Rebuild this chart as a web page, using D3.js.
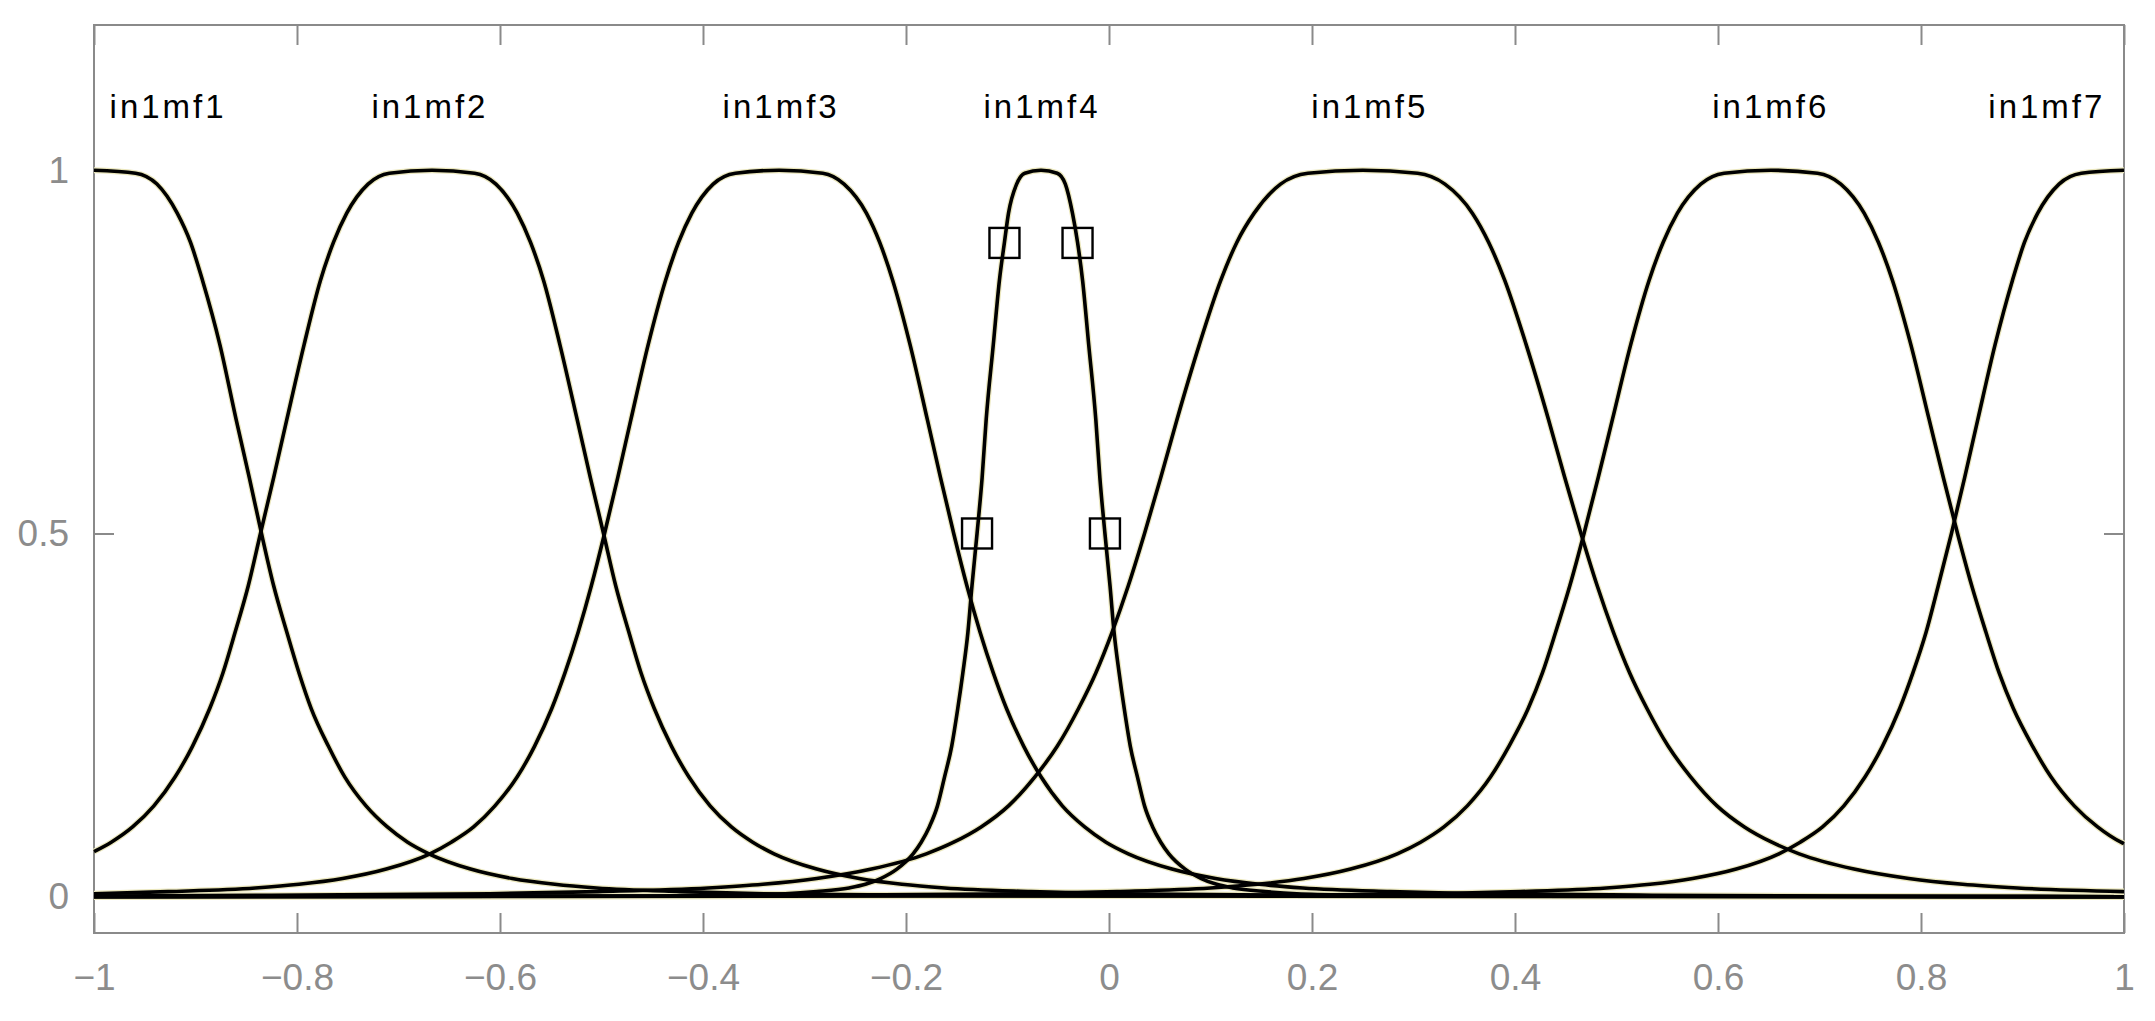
<!DOCTYPE html>
<html>
<head>
<meta charset="utf-8">
<script src="https://cdn.jsdelivr.net/npm/d3@7"></script>
<style>
body { margin: 0; background: #fff; }
svg { display: block; }
.axis text { font-family: "Liberation Sans", Arial, sans-serif; font-size: 37px; fill: #8c8c8c; }
.axis line { stroke: #8a8a8a; stroke-width: 2; }
.mflabel { font-family: "Liberation Sans", Arial, sans-serif; font-size: 33px; fill: #000; letter-spacing: 3px; }
</style>
</head>
<body>
<div id="chart"></div>
<script>
/* membership curves as [x, mu] points */
var in1mf1 = [[-1,1],[-0.959,0.996],[-0.938,0.981],[-0.918,0.941],[-0.905,0.901],[-0.893,0.848],[-0.876,0.760],[-0.860,0.657],[-0.847,0.577],[-0.835,0.500],[-0.823,0.428],[-0.810,0.364],[-0.798,0.308],[-0.786,0.259],[-0.769,0.207],[-0.753,0.165],[-0.732,0.125],[-0.711,0.096],[-0.691,0.075],[-0.670,0.059],[-0.629,0.038],[-0.588,0.025],[-0.546,0.017],[-0.505,0.012],[-0.423,0.007],[-0.340,0.004],[-0.175,0.002],[-0.010,0.001],[1,0]];
var in1mf2 = [[-1,0.062],[-0.983,0.075],[-0.962,0.096],[-0.941,0.125],[-0.920,0.165],[-0.903,0.207],[-0.886,0.259],[-0.873,0.308],[-0.861,0.364],[-0.848,0.428],[-0.836,0.500],[-0.823,0.577],[-0.810,0.657],[-0.793,0.760],[-0.777,0.848],[-0.764,0.901],[-0.751,0.941],[-0.730,0.981],[-0.709,0.996],[-0.667,1],[-0.625,0.996],[-0.604,0.981],[-0.583,0.941],[-0.570,0.901],[-0.557,0.848],[-0.541,0.760],[-0.524,0.657],[-0.511,0.577],[-0.498,0.500],[-0.486,0.428],[-0.473,0.364],[-0.461,0.308],[-0.448,0.259],[-0.431,0.207],[-0.414,0.165],[-0.393,0.125],[-0.372,0.096],[-0.351,0.075],[-0.330,0.059],[-0.288,0.038],[-0.246,0.025],[-0.204,0.017],[-0.162,0.012],[-0.077,0.007],[0.007,0.004],[0.176,0.002],[0.344,0.001],[1,0]];
var in1mf3 = [[-1,0.004],[-0.927,0.007],[-0.841,0.012],[-0.798,0.017],[-0.755,0.025],[-0.712,0.038],[-0.669,0.059],[-0.648,0.075],[-0.626,0.096],[-0.605,0.125],[-0.583,0.165],[-0.566,0.207],[-0.549,0.259],[-0.536,0.308],[-0.523,0.364],[-0.510,0.428],[-0.497,0.500],[-0.484,0.577],[-0.471,0.657],[-0.454,0.760],[-0.437,0.848],[-0.424,0.901],[-0.411,0.941],[-0.390,0.981],[-0.368,0.996],[-0.325,1],[-0.282,0.996],[-0.261,0.981],[-0.239,0.941],[-0.226,0.901],[-0.213,0.848],[-0.196,0.760],[-0.179,0.657],[-0.166,0.577],[-0.153,0.500],[-0.140,0.428],[-0.127,0.364],[-0.114,0.308],[-0.101,0.259],[-0.084,0.207],[-0.067,0.165],[-0.046,0.125],[-0.024,0.096],[-0.003,0.075],[0.019,0.059],[0.062,0.038],[0.105,0.025],[0.148,0.017],[0.191,0.012],[0.277,0.007],[0.363,0.004],[0.535,0.002],[0.707,0.001],[1,0]];
var in1mf4 = [[-1,0],[-0.445,0.001],[-0.382,0.002],[-0.319,0.004],[-0.288,0.007],[-0.256,0.012],[-0.240,0.017],[-0.225,0.025],[-0.209,0.038],[-0.193,0.059],[-0.185,0.075],[-0.177,0.096],[-0.169,0.125],[-0.162,0.165],[-0.155,0.207],[-0.149,0.259],[-0.144,0.308],[-0.139,0.364],[-0.135,0.428],[-0.130,0.500],[-0.125,0.577],[-0.121,0.657],[-0.114,0.760],[-0.108,0.848],[-0.103,0.901],[-0.099,0.941],[-0.091,0.981],[-0.083,0.996],[-0.067,1],[-0.051,0.996],[-0.043,0.981],[-0.036,0.941],[-0.031,0.901],[-0.026,0.848],[-0.020,0.760],[-0.013,0.657],[-0.009,0.577],[-0.004,0.500],[0.001,0.428],[0.005,0.364],[0.010,0.308],[0.015,0.259],[0.021,0.207],[0.028,0.165],[0.035,0.125],[0.043,0.096],[0.051,0.075],[0.059,0.059],[0.075,0.038],[0.091,0.025],[0.106,0.017],[0.122,0.012],[0.154,0.007],[0.185,0.004],[0.248,0.002],[0.311,0.001],[1,0]];
var in1mf5 = [[-1,0.001],[-0.825,0.002],[-0.610,0.004],[-0.503,0.007],[-0.395,0.012],[-0.341,0.017],[-0.288,0.025],[-0.234,0.038],[-0.180,0.059],[-0.153,0.075],[-0.126,0.096],[-0.099,0.125],[-0.073,0.165],[-0.051,0.207],[-0.030,0.259],[-0.013,0.308],[0.003,0.364],[0.019,0.428],[0.035,0.500],[0.051,0.577],[0.067,0.657],[0.089,0.760],[0.110,0.848],[0.126,0.901],[0.143,0.941],[0.169,0.981],[0.196,0.996],[0.250,1],[0.304,0.996],[0.331,0.981],[0.358,0.941],[0.374,0.901],[0.390,0.848],[0.411,0.760],[0.433,0.657],[0.449,0.577],[0.465,0.500],[0.481,0.428],[0.497,0.364],[0.513,0.308],[0.530,0.259],[0.551,0.207],[0.573,0.165],[0.599,0.125],[0.626,0.096],[0.653,0.075],[0.680,0.059],[0.734,0.038],[0.788,0.025],[0.841,0.017],[0.895,0.012],[1,0.007]];
var in1mf6 = [[-1,0],[-0.452,0.001],[-0.268,0.002],[-0.084,0.004],[0.008,0.007],[0.100,0.012],[0.146,0.017],[0.192,0.025],[0.238,0.038],[0.284,0.059],[0.307,0.075],[0.330,0.096],[0.353,0.125],[0.376,0.165],[0.394,0.207],[0.413,0.259],[0.427,0.308],[0.440,0.364],[0.454,0.428],[0.468,0.500],[0.482,0.577],[0.496,0.657],[0.514,0.760],[0.532,0.848],[0.546,0.901],[0.560,0.941],[0.583,0.981],[0.606,0.996],[0.652,1],[0.698,0.996],[0.721,0.981],[0.744,0.941],[0.758,0.901],[0.772,0.848],[0.790,0.760],[0.808,0.657],[0.822,0.577],[0.836,0.500],[0.850,0.428],[0.864,0.364],[0.877,0.308],[0.891,0.259],[0.910,0.207],[0.928,0.165],[0.951,0.125],[0.974,0.096],[0.997,0.075],[1,0.073]];
var in1mf7 = [[-1,0],[-0.020,0.001],[0.150,0.002],[0.320,0.004],[0.405,0.007],[0.490,0.012],[0.533,0.017],[0.575,0.025],[0.618,0.038],[0.660,0.059],[0.681,0.075],[0.703,0.096],[0.724,0.125],[0.745,0.165],[0.762,0.207],[0.779,0.259],[0.792,0.308],[0.805,0.364],[0.817,0.428],[0.830,0.500],[0.843,0.577],[0.856,0.657],[0.873,0.760],[0.890,0.848],[0.902,0.901],[0.915,0.941],[0.936,0.981],[0.958,0.996],[1,1]];

var mfNames = ["in1mf1", "in1mf2", "in1mf3", "in1mf4", "in1mf5", "in1mf6", "in1mf7"];
var mfLabelX = [-0.927, -0.669, -0.323, -0.066, 0.257, 0.652, 0.924];
var mfLabelY = 1.1;

/* square handles on in1mf4 */
var handleX = [-0.130, -0.103, -0.031, -0.004];
var handleY = [0.5, 0.9, 0.9, 0.5];

var xTicks = [-1, -0.8, -0.6, -0.4, -0.2, 0, 0.2, 0.4, 0.6, 0.8, 1];
var xTickLabels = ["\u22121", "\u22120.8", "\u22120.6", "\u22120.4", "\u22120.2", "0", "0.2", "0.4", "0.6", "0.8", "1"];
var yTicks = [0, 0.5, 1];
var yTickLabels = ["0", "0.5", "1"];

var curves = [in1mf1, in1mf2, in1mf3, in1mf4, in1mf5, in1mf6, in1mf7];

var w = 2155, h = 1021;
var padL = 94, padR = 2124, padT = 25, padB = 933;
var tickLen = 20;

var xScale = d3.scaleLinear().domain([-1, 1]).range([padL, padR]);
var yScale = d3.scaleLinear().domain([-0.05, 1.2]).range([padB, padT]);

var svg = d3.select("#chart").append("svg").attr("width", w).attr("height", h);

/* axes, ticks pointing inward on all four sides */
svg.append("g")
	.attr("class", "axis")
	.attr("transform", "translate(0," + padB + ")")
	.call(d3.axisBottom(xScale).tickValues(xTicks).tickSizeInner(-tickLen).tickSizeOuter(0).tickPadding(31)
		.tickFormat(function (d, i) { return xTickLabels[i]; }));

svg.append("g")
	.attr("class", "axis")
	.attr("transform", "translate(0," + padT + ")")
	.call(d3.axisTop(xScale).tickValues(xTicks).tickSizeInner(-tickLen).tickSizeOuter(0).tickFormat(""));

svg.append("g")
	.attr("class", "axis")
	.attr("transform", "translate(" + padL + ",0)")
	.call(d3.axisLeft(yScale).tickValues(yTicks).tickSizeInner(-tickLen).tickSizeOuter(0).tickPadding(25)
		.tickFormat(function (d, i) { return yTickLabels[i]; }));

svg.append("g")
	.attr("class", "axis")
	.attr("transform", "translate(" + padR + ",0)")
	.call(d3.axisRight(yScale).tickValues(yTicks).tickSizeInner(-tickLen).tickSizeOuter(0).tickFormat(""));

svg.selectAll(".axis .domain").remove();

svg.append("rect")
	.attr("x", padL).attr("y", padT)
	.attr("width", padR - padL).attr("height", padB - padT)
	.style("fill", "none").style("stroke", "#8a8a8a").style("stroke-width", 2);

var line = d3.line()
	.x(function (d) { return xScale(d[0]); })
	.y(function (d) { return yScale(d[1]); })
	.curve(d3.curveMonotoneX);

var plot = svg.append("g");

/* pale fringe under the black curves */
plot.selectAll("path.fringe").data(curves).enter()
	.append("path")
	.attr("class", "fringe")
	.attr("d", line)
	.style("fill", "none").style("stroke", "#ebe7bd").style("stroke-width", 6);

plot.selectAll("path.mf").data(curves).enter()
	.append("path")
	.attr("class", "mf")
	.attr("d", line)
	.style("fill", "none").style("stroke", "#000").style("stroke-width", 3.6);

var sq = 30;
plot.selectAll("rect.handle").data(handleX).enter()
	.append("rect")
	.attr("class", "handle")
	.attr("x", function (d) { return xScale(d) - sq / 2; })
	.attr("y", function (d, i) { return yScale(handleY[i]) - sq / 2; })
	.attr("width", sq).attr("height", sq)
	.style("fill", "none").style("stroke", "#000").style("stroke-width", 2.4);

svg.selectAll("text.mflabel").data(mfNames).enter()
	.append("text")
	.attr("class", "mflabel")
	.attr("x", function (d, i) { return xScale(mfLabelX[i]); })
	.attr("y", yScale(mfLabelY) + 20)
	.style("text-anchor", "middle")
	.text(function (d) { return d; });
</script>
</body>
</html>
